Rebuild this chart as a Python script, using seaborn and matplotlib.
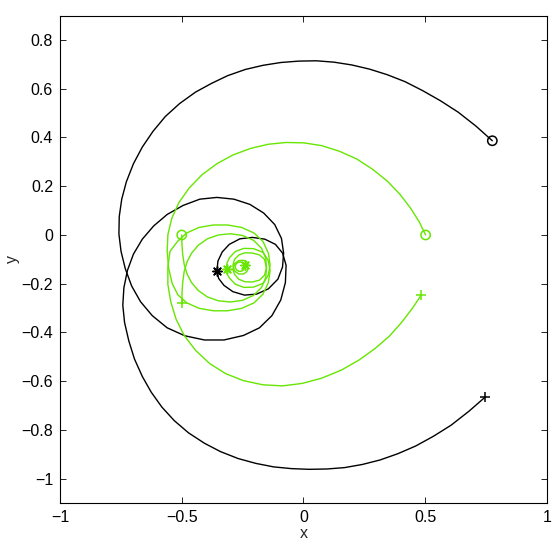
import numpy as np
import pandas as pd
import matplotlib
matplotlib.use("Agg")
import matplotlib.pyplot as plt
import seaborn as sns

# ---- data ----
black_o_x = [0.7755, 0.7085, 0.6356, 0.5627, 0.4898, 0.4169, 0.3440, 0.2711, 0.1983, 0.1254, 0.0525,
             -0.0204, -0.0933, -0.1662, -0.2391, -0.3120, -0.3776, -0.4431, -0.5087, -0.5671, -0.6181,
             -0.6618, -0.6983, -0.7274, -0.7464, -0.7566, -0.7580, -0.7493, -0.7318, -0.7055, -0.6691,
             -0.6210, -0.5598, -0.4869, -0.4067, -0.3265, -0.2464, -0.1808, -0.1297, -0.0933, -0.0743,
             -0.0714, -0.0860, -0.1152, -0.1589, -0.2099, -0.2609, -0.3047, -0.3338, -0.3513, -0.3557]
black_o_y = [0.3866, 0.4465, 0.5036, 0.5506, 0.5920, 0.6291, 0.6576, 0.6805, 0.6976, 0.7090, 0.7147,
             0.7133, 0.7076, 0.6961, 0.6790, 0.6534, 0.6220, 0.5863, 0.5392, 0.4864, 0.4251,
             0.3609, 0.2924, 0.2183, 0.1469, 0.0756, 0.0043, -0.0670, -0.1384, -0.2097, -0.2739,
             -0.3310, -0.3809, -0.4137, -0.4308, -0.4308, -0.4123, -0.3809, -0.3310, -0.2668, -0.1954,
             -0.1241, -0.0742, -0.0385, -0.0171, -0.0100, -0.0157, -0.0385, -0.0699, -0.1070, -0.1498]

black_p_x = [0.7449, 0.6793, 0.6064, 0.5335, 0.4606, 0.3878, 0.3149, 0.2420, 0.1691, 0.0962, 0.0233,
             -0.0496, -0.1224, -0.1953, -0.2682, -0.3411, -0.4067, -0.4723, -0.5306, -0.5816, -0.6254,
             -0.6618, -0.6939, -0.7172, -0.7347, -0.7420, -0.7376, -0.7230, -0.6983, -0.6618, -0.6152,
             -0.5598, -0.4942, -0.4257, -0.3557, -0.2857, -0.2201, -0.1633, -0.1181, -0.0904, -0.0816,
             -0.0860, -0.1050, -0.1443, -0.1924, -0.2420, -0.2901, -0.3265, -0.3484, -0.3557]
black_p_y = [-0.6662, -0.7233, -0.7803, -0.8260, -0.8659, -0.8973, -0.9230, -0.9415, -0.9544, -0.9601, -0.9615,
             -0.9586, -0.9515, -0.9372, -0.9173, -0.8887, -0.8545, -0.8117, -0.7618, -0.7061, -0.6448,
             -0.5806, -0.5093, -0.4351, -0.3595, -0.2882, -0.2168, -0.1455, -0.0785, -0.0171, 0.0371,
             0.0842, 0.1213, 0.1469, 0.1541, 0.1469, 0.1255, 0.0899, 0.0428, -0.0143, -0.0742,
             -0.1312, -0.1812, -0.2211, -0.2425, -0.2468, -0.2325, -0.2068, -0.1783, -0.1498]

green_o_x = [0.5015, 0.4752, 0.4388, 0.3950, 0.3440, 0.2857, 0.2201, 0.1472, 0.0743, 0.0015, -0.0714,
             -0.1443, -0.2172, -0.2901, -0.3557, -0.4169, -0.4694, -0.5117, -0.5408, -0.5569, -0.5598,
             -0.5539, -0.5394, -0.5160, -0.4796, -0.4286, -0.3703, -0.3120, -0.2536, -0.2026, -0.1662,
             -0.1443, -0.1370, -0.1450, -0.1650, -0.2050, -0.2450, -0.2800, -0.3030, -0.3140, -0.3160]
green_o_y = [0.0000, 0.0542, 0.1113, 0.1683, 0.2211, 0.2682, 0.3110, 0.3438, 0.3666, 0.3780, 0.3795,
             0.3723, 0.3552, 0.3281, 0.2924, 0.2468, 0.1926, 0.1327, 0.0685, 0.0014, -0.0670,
             -0.1355, -0.1983, -0.2454, -0.2782, -0.3010, -0.3110, -0.3110, -0.3010, -0.2782, -0.2425,
             -0.1954, -0.1455, -0.1050, -0.0720, -0.0560, -0.0550, -0.0680, -0.0920, -0.1150, -0.1410]

green_p_x = [0.4825, 0.4461, 0.4023, 0.3513, 0.2930, 0.2274, 0.1545, 0.0743, -0.0058, -0.0860, -0.1662,
             -0.2464, -0.3192, -0.3848, -0.4431, -0.4898, -0.5233, -0.5452, -0.5569, -0.5569, -0.5481,
             -0.5160, -0.4800, -0.4290, -0.3700, -0.3120, -0.2540, -0.2030, -0.1660, -0.1440, -0.1370,
             -0.1450, -0.1650, -0.2050, -0.2450, -0.2800, -0.3030, -0.3140, -0.3160]
green_p_y = [-0.2482, -0.3024, -0.3595, -0.4165, -0.4665, -0.5136, -0.5549, -0.5877, -0.6091, -0.6191, -0.6148,
             -0.5977, -0.5692, -0.5278, -0.4736, -0.4123, -0.3452, -0.2739, -0.2026, -0.1312, -0.0670,
             -0.0250, 0.0080, 0.0310, 0.0410, 0.0410, 0.0310, 0.0080, -0.0270, -0.0750, -0.1240,
             -0.1650, -0.1980, -0.2140, -0.2150, -0.2020, -0.1780, -0.1600, -0.1410]

small_o_x = [-0.500, -0.499, -0.496, -0.490, -0.478, -0.460, -0.432, -0.395, -0.350, -0.300, -0.250,
             -0.205, -0.172, -0.155, -0.152, -0.160, -0.180, -0.210, -0.240, -0.265, -0.283, -0.290,
             -0.283, -0.266, -0.246, -0.232, -0.228, -0.234, -0.240]
small_o_y = [0.000, -0.040, -0.080, -0.120, -0.160, -0.195, -0.228, -0.254, -0.270, -0.275, -0.268,
             -0.248, -0.215, -0.175, -0.135, -0.100, -0.082, -0.074, -0.073, -0.082, -0.100, -0.125,
             -0.148, -0.160, -0.160, -0.150, -0.135, -0.125, -0.123]

small_p_x = [-0.498, -0.499, -0.496, -0.490, -0.478, -0.460, -0.432, -0.395, -0.350, -0.300, -0.250,
             -0.205, -0.172, -0.155, -0.152, -0.160, -0.180, -0.210, -0.240, -0.265, -0.283, -0.290,
             -0.283, -0.266, -0.246, -0.232, -0.228, -0.234, -0.240]
small_p_y = [-0.278, -0.238, -0.195, -0.150, -0.110, -0.075, -0.042, -0.016, 0.000, 0.005, -0.002,
             -0.022, -0.055, -0.095, -0.135, -0.165, -0.185, -0.193, -0.192, -0.182, -0.162, -0.140,
             -0.118, -0.105, -0.104, -0.110, -0.120, -0.124, -0.123]

# marker points
black_start_o = [(0.7755, 0.3866)]
black_start_p = [(0.7449, -0.6662)]
black_end = [(-0.3557, -0.1480)]
green_start_o = [(0.5015, 0.000), (-0.500, 0.000), (-0.261, -0.130)]
green_start_p = [(0.4825, -0.2482), (-0.498, -0.278)]
green_end = [(-0.316, -0.141), (-0.240, -0.123)]

x_ticks = [-1, -0.5, 0, 0.5, 1]
x_labels = ["\u22121", "\u22120.5", "0", "0.5", "1"]
y_ticks = [-1, -0.8, -0.6, -0.4, -0.2, 0, 0.2, 0.4, 0.6, 0.8]
y_labels = ["\u22121", "\u22120.8", "\u22120.6", "\u22120.4", "\u22120.2", "0", "0.2", "0.4", "0.6", "0.8"]

BLACK = "black"
GREEN = "#66E600"

sns.set_style("white")
plt.rcParams['font.family'] = ['Liberation Sans', 'DejaVu Sans']

fig = plt.figure(figsize=(5.59, 5.46), dpi=100)
ax = fig.add_axes([0.1073, 0.0786, 0.8712, 0.8928])

curves = [
    (black_o_x, black_o_y, BLACK),
    (black_p_x, black_p_y, BLACK),
    (green_o_x, green_o_y, GREEN),
    (green_p_x, green_p_y, GREEN),
    (small_o_x, small_o_y, GREEN),
    (small_p_x, small_p_y, GREEN),
]
for cx, cy, col in curves:
    df = pd.DataFrame({"x": cx, "y": cy})
    sns.lineplot(data=df, x="x", y="y", sort=False, estimator=None, color=col,
                 linewidth=1.0, ax=ax)

def mk(points, col, marker, size, lw):
    df = pd.DataFrame(points, columns=["x", "y"])
    kw = dict(data=df, x="x", y="y", marker=marker, s=size, ax=ax, zorder=5)
    if marker == "o":
        sns.scatterplot(**kw, facecolors="none", edgecolor=col, linewidth=lw)
    else:
        sns.scatterplot(**kw, color=col, linewidth=lw)

mk(black_start_o, BLACK, "o", 45, 1.1)
mk(black_start_p, BLACK, "+", 45, 1.1)
mk(black_end, BLACK, (8, 2, 0), 45, 1.1)
mk(green_start_o, GREEN, "o", 45, 1.1)
mk(green_start_p, GREEN, "+", 45, 1.1)
mk(green_end, GREEN, (8, 2, 0), 45, 1.1)

ax.set_xlim(-1, 1)
ax.set_ylim(-1.1, 0.9)
ax.set_xticks(x_ticks)
ax.set_xticklabels(x_labels)
ax.set_yticks(y_ticks)
ax.set_yticklabels(y_labels)
ax.set_xlabel("x", fontsize=11.5)
ax.set_ylabel("y", fontsize=11.5)
ax.yaxis.set_label_coords(-0.083, 0.5)
ax.xaxis.set_label_coords(0.5, -0.048)
ax.tick_params(direction="in", length=4, width=0.6, labelsize=11.5, colors="black",
               top=True, right=True, bottom=True, left=True, pad=5)
for s in ax.spines.values():
    s.set_visible(True)
    s.set_color("black")
    s.set_linewidth(0.8)
if ax.get_legend():
    ax.get_legend().remove()

fig.savefig("out.png", dpi=100)
